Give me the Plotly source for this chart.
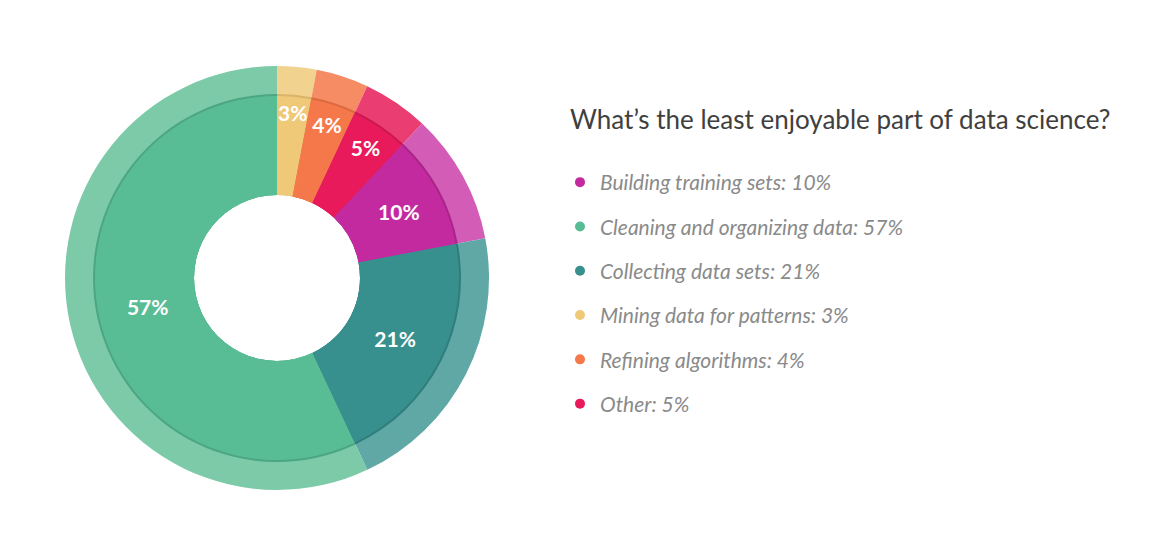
import plotly.graph_objects as go

# slice order, clockwise from 12 o'clock
slice_labels = ["Mining data for patterns", "Refining algorithms", "Other",
                "Building training sets", "Collecting data sets", "Cleaning and organizing data"]
slice_values = [3, 4, 5, 10, 21, 57]
inner_colors = ["#EFC878", "#F4784A", "#E81A5B", "#C42A9F", "#378F8E", "#58BD95"]
outer_colors = ["#F1D38F", "#F58C64", "#EA3E73", "#D25CB6", "#5FA8A6", "#7CCAA8"]
edge_colors = ["#D9B36A", "#DC6A40", "#CC1850", "#AA2489", "#2F7D7C", "#4CA683"]

# legend order as shown on the right
legend_labels = ["Building training sets", "Cleaning and organizing data", "Collecting data sets",
                 "Mining data for patterns", "Refining algorithms", "Other"]
legend_values = [10, 57, 21, 3, 4, 5]
legend_colors = ["#C42A9F", "#58BD95", "#378F8E", "#EFC878", "#F4784A", "#E81A5B"]

W, H = 1154, 546
OFF = 8  # page body margin
cx, cy = 277 - OFF, 278 - OFF
r_outer, r_inner, r_hole = 212, 182, 83


def dom(r):
    return {"x": [(cx - r) / W, (cx + r) / W], "y": [1 - (cy + r) / H, 1 - (cy - r) / H]}


fig = go.Figure()

# outer light ring
fig.add_trace(go.Pie(
    labels=slice_labels, values=slice_values, sort=False, direction="clockwise", rotation=0,
    hole=r_hole / r_outer, domain=dom(r_outer), marker={"colors": outer_colors},
    textinfo="none", showlegend=False, hoverinfo="skip",
))
# thin darker edge between rings
fig.add_trace(go.Pie(
    labels=slice_labels, values=slice_values, sort=False, direction="clockwise", rotation=0,
    hole=r_hole / (r_inner + 2), domain=dom(r_inner + 2), marker={"colors": edge_colors},
    textinfo="none", showlegend=False, hoverinfo="skip",
))
# inner ring with labels
fig.add_trace(go.Pie(
    labels=slice_labels, values=slice_values, sort=False, direction="clockwise", rotation=0,
    hole=r_hole / r_inner, domain=dom(r_inner), marker={"colors": inner_colors},
    text=[f"{v}%" for v in slice_values], textinfo="text", textposition="inside",
    insidetextorientation="horizontal",
    textfont={"family": "Lato", "size": 21, "color": "white", "weight": "bold"},
    showlegend=False,
))

# legend entries
for name, val, col in zip(legend_labels, legend_values, legend_colors):
    fig.add_trace(go.Scatter(
        x=[None], y=[None], mode="markers", name=f"{name}: {val}%",
        marker={"color": col, "size": 10}, legendgroup=name,
    ))

fig.update_layout(
    width=W, height=H,
    template="plotly_white",
    paper_bgcolor="white", plot_bgcolor="white",
    margin={"t": 0, "l": 0, "r": 0, "b": 0},
    uniformtext={"minsize": 21, "mode": "show"},
    xaxis={"visible": False}, yaxis={"visible": False},
    title={"text": "What’s the least enjoyable part of data science?", "x": (570 - OFF) / W,
           "xanchor": "left", "y": 1 - (120 - OFF) / H, "yanchor": "middle",
           "font": {"family": "Lato", "size": 26, "color": "#404040"}},
    legend={"x": (560 - OFF) / W, "xanchor": "left", "y": 1 - (162 - OFF) / H, "yanchor": "top",
            "tracegroupgap": 14, "bgcolor": "rgba(0,0,0,0)",
            "font": {"family": "Lato", "size": 21, "color": "#8a8a8a", "style": "italic"}},
)

fig.write_html("out.html")
